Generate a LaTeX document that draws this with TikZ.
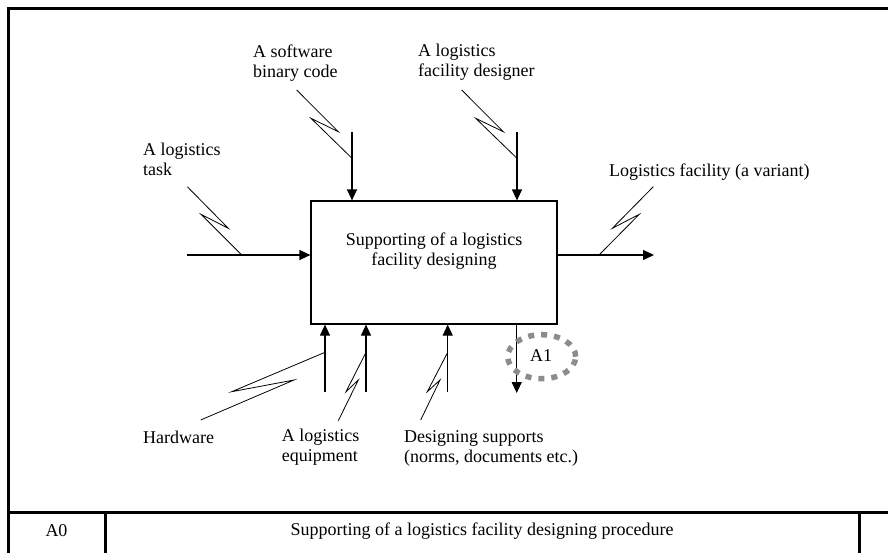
\documentclass[tikz,border=0pt]{standalone}
\usepackage{fontspec}
\setmainfont{Liberation Serif}
\usetikzlibrary{arrows.meta}
\begin{document}
\begin{tikzpicture}[x=1pt,y=-1pt,
  every node/.style={font=\fontsize{18}{20}\selectfont, inner sep=0pt},
  lbl/.style={align=left, anchor=west},
  frameline/.style={line width=3pt},
  flow/.style={line width=1.2pt, -{Triangle[length=11pt,width=10pt]}},
  bolt/.style={line width=0.8pt, line join=miter},
  tag/.style={draw=gray!90, line width=5.5pt, dash pattern=on 6pt off 7pt}]
\useasboundingbox (0,0) rectangle (888,552);
\clip (0,0) rectangle (888,552);
\fill[white] (0,0) rectangle (888,552);

% outer frame and title strip
\draw[frameline] (8,8) rectangle (900,570);
\draw[frameline] (8,512) -- (900,512);
\draw[frameline] (105,512) -- (105,570);
\draw[frameline] (859,512) -- (859,570);
\node (num) at (56.5,531) {A0};
\node (title) at (482,531) {Supporting of a logistics facility designing procedure};

% activity box
\node[draw, line width=1.2pt, minimum width=246pt, minimum height=123pt, align=center]
  (act) at (434,262.5) {};
\node[align=center] (acttext) at (434,251) {Supporting of a logistics\\facility designing};

% input
\coordinate (inS) at (187,255);
\draw[flow] (inS) -- (act.west |- inS);
\node[lbl] (inL) at (143,159) {A logistics\\task};
\coordinate (inB) at (241.7,255);
\draw[bolt] (187.3,186.7) -- (228.3,228.3) -- (201,214.3) -- (inB);

% controls
\coordinate (c1S) at (352,132);
\coordinate (c2S) at (517,132);
\draw[flow] (c1S) -- (act.north -| c1S);
\draw[flow] (c2S) -- (act.north -| c2S);
\node[lbl] (c1L) at (253,63) {A software\\binary code};
\node[lbl] (c2L) at (418,62) {A logistics\\facility designer};
\draw[bolt] (296.7,90) -- (338.3,131.7) -- (311,118.3) -- (352,158.3);
\draw[bolt] (461.7,90) -- (503.3,131.7) -- (475.7,118.3) -- (517,158.3);

% output
\coordinate (outE) at (654,255);
\draw[flow] (act.east |- outE) -- (outE);
\node[lbl] (outL) at (609,172) {Logistics facility (a variant)};
\draw[bolt] (653.3,186.7) -- (612.3,228.3) -- (639.3,214.3) -- (599,255);

% mechanisms
\coordinate (m1S) at (325,392);
\coordinate (m2S) at (366,392);
\coordinate (m3S) at (447.7,392);
\draw[flow] (m1S) -- (act.south -| m1S);
\draw[flow] (m2S) -- (act.south -| m2S);
\draw[flow] (m3S) -- (act.south -| m3S);
\node[lbl] (m1L) at (143,437) {Hardware};
\node[lbl] (m2L) at (281.7,447) {A logistics\\equipment};
\node[lbl] (m3L) at (404,448) {Designing supports\\(norms, documents etc.)};
\draw[bolt] (200.7,420) -- (294,380) -- (231.7,391.7) -- (325,352.3);
\draw[bolt] (338.3,420.7) -- (358.3,380) -- (346,391.7) -- (366,352.3);
\draw[bolt] (420.7,420) -- (440,380) -- (427.3,391.7) -- (447.7,352.3);

% decomposition reference
\coordinate (dE) at (516.7,393);
\draw[flow] (act.south -| dE) -- (dE);
\draw[tag] (541.7,356.7) ellipse [x radius=34pt, y radius=22pt];
\node (dref) at (541,356) {A1};
\end{tikzpicture}
\end{document}
